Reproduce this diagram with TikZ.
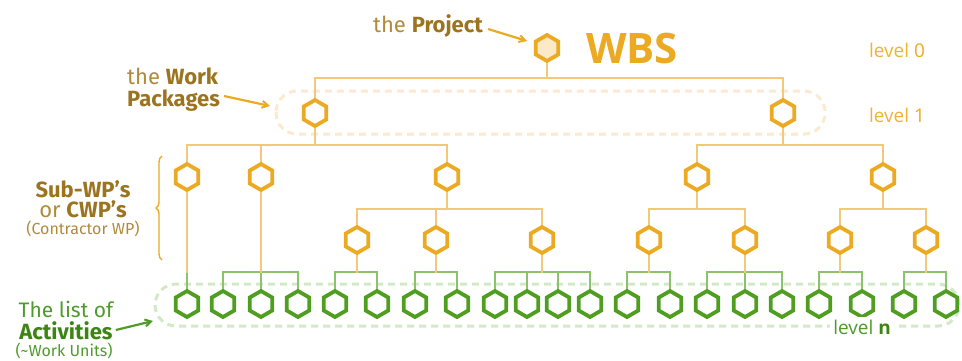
\documentclass[tikz,border=0pt]{standalone}
\usepackage{fontspec}
\setmainfont{Fira Sans}
\newfontfamily\lvlfont{Open Sans}
\usetikzlibrary{shapes.geometric,arrows.meta,decorations.pathreplacing,calc}
\definecolor{hexor}{HTML}{EBAA22}
\definecolor{lineor}{HTML}{F2C978}
\definecolor{rootfill}{HTML}{FBE9C8}
\definecolor{hexgr}{HTML}{4F9E1F}
\definecolor{linegr}{HTML}{8CC26C}
\definecolor{dashor}{HTML}{FBEAD0}
\definecolor{dashgr}{HTML}{D3E9C6}
\definecolor{brownA}{HTML}{B08A3A}
\definecolor{brownB}{HTML}{9C7420}
\definecolor{greenA}{HTML}{4E9A2A}
\definecolor{greenB}{HTML}{3C8512}
\definecolor{lvl}{HTML}{EDB435}
\tikzset{
  hexbase/.style={regular polygon, regular polygon sides=6, shape border rotate=30,
    minimum size=26pt, inner sep=0pt, line width=3.8pt},
  hexo/.style={hexbase, draw=hexor, fill=white},
  hexg/.style={hexbase, draw=hexgr, fill=white},
  oline/.style={draw=lineor, line width=2.5pt},
  gline/.style={draw=linegr, line width=2.5pt},
  dashstad/.style={line width=3pt, dash pattern=on 7pt off 5pt, rounded corners=21pt},
  hand/.style={inner sep=0pt, text=brownA},
  handg/.style={inner sep=0pt, text=greenA},
  lvltxt/.style={inner sep=1pt, text=lvl, font=\lvlfont\fontsize{19}{21}\selectfont},
  pointer/.style={line width=2.2pt, -{Straight Barb[angle=60:7pt, line width=2pt]}},
}
\begin{document}
\begin{tikzpicture}[x=1pt,y=-1pt]
\useasboundingbox (0,0) rectangle (962,360);
% dashed groups
\draw[dashstad, dashor] (276,91) rectangle (825,134);
\draw[dashstad, dashgr] (155,284) rectangle (959,326);
% bar levels
\coordinate (y1) at (0,78);
\coordinate (y2) at (0,145);
\coordinate (y3) at (0,209);
\coordinate (y4) at (0,272);
% tree nodes
\node[hexo, fill=rootfill] (root) at (547,48) {};
\node[hexo] (a) at (315,113) {};
\node[hexo] (b) at (783,113) {};
\node[hexo] (a1) at (187,177) {};
\node[hexo] (a2) at (261,177) {};
\node[hexo] (a3) at (447,177) {};
\node[hexo] (b1) at (697,177) {};
\node[hexo] (b2) at (883,177) {};
\node[hexo] (a31) at (357,240) {};
\node[hexo] (a32) at (436,240) {};
\node[hexo] (a33) at (542,240) {};
\node[hexo] (b11) at (649,240) {};
\node[hexo] (b12) at (745,240) {};
\node[hexo] (b21) at (840,240) {};
\node[hexo] (b22) at (926,240) {};
\foreach \i/\x in {1/187,2/223,3/261,4/298,5/335,6/377,7/415,8/457,9/495,10/527,11/558,
  12/590,13/627,14/670,15/707,16/745,17/782,18/819,19/862,20/904,21/946}
  \node[hexg] (g\i) at (\x,304) {};
% orange connectors
\foreach \p/\y/\c in {root/y1/a, root/y1/b, a/y2/a1, a/y2/a2, a/y2/a3, b/y2/b1, b/y2/b2,
  a3/y3/a31, a3/y3/a32, a3/y3/a33, b1/y3/b11, b1/y3/b12, b2/y3/b21, b2/y3/b22}
  \draw[oline] (\p.south) -- (\p |- \y) -| (\c.north);
% green connectors
\foreach \p/\c in {a1/g1, a2/g2, a2/g3, a2/g4, a31/g5, a31/g6, a32/g7, a32/g8,
  a33/g9, a33/g10, a33/g11, a33/g12, b11/g13, b11/g14, b12/g15, b12/g16, b12/g17,
  b21/g18, b21/g19, b22/g20, b22/g21}
  \draw[gline] (\p |- y4) -| (\c.north);
\foreach \p in {a1, a2, a31, a32, a33, b11, b12, b21, b22}
  \draw[oline] (\p.south) -- ([yshift=-1pt]\p |- y4);
% titles and levels
\node[inner sep=0pt, text=hexor, font=\lvlfont\bfseries\fontsize{42}{44}\selectfont] (wbs) at (632,48) {WBS};
\node[lvltxt] (l0) at (897,50) {level {\color{hexor}0}};
\node[lvltxt] (l1) at (897,115) {level {\color{hexor}1}};
\node[lvltxt, text=greenA, fill=white, inner sep=3pt] (ln) at (862,327) {level {\color{greenB}\bfseries n}};
% handwritten labels
\node[hand, font=\fontsize{22}{24}\selectfont] (tproj) at (428,26) {the {\color{brownB}\bfseries Project}};
\coordinate (ptip) at (527,41);
\draw[pointer, draw=hexor] (tproj.east) ++(5,3) -- (ptip);
\node[hand, align=left, anchor=west, font=\fontsize{22}{22}\selectfont] (twp) at (127,90)
  {the {\color{brownB}\bfseries Work}\\{\color{brownB}\bfseries Packages}};
\coordinate (wptip) at (270,106);
\draw[pointer, draw=hexor] (twp.east) ++(4,6) -- (wptip);
\node[hand, text=brownB, font=\bfseries\fontsize{22}{22}\selectfont] (sub1) at (83,189) {Sub-WP's};
\node[hand, font=\fontsize{22}{22}\selectfont] (sub2) at (83,209) {or {\color{brownB}\bfseries CWP's}};
\node[hand, font=\fontsize{16}{18}\selectfont] (sub3) at (83,229) {(Contractor WP)};
\draw[hexor, line width=1.4pt, decorate, decoration={brace, amplitude=6pt}] (162,260) -- (162,156);
\node[handg, font=\fontsize{21}{22}\selectfont] (act1) at (66,309) {The list of};
\node[handg, text=greenB, font=\bfseries\fontsize{22}{22}\selectfont] (act2) at (66,331) {Activities};
\node[handg, font=\fontsize{16}{18}\selectfont] (act3) at (64,351) {(\textasciitilde Work Units)};
\coordinate (atip) at (153,321);
\draw[pointer, draw=greenA] (act2.east) ++(3,-1) -- (atip);
\end{tikzpicture}
\end{document}
